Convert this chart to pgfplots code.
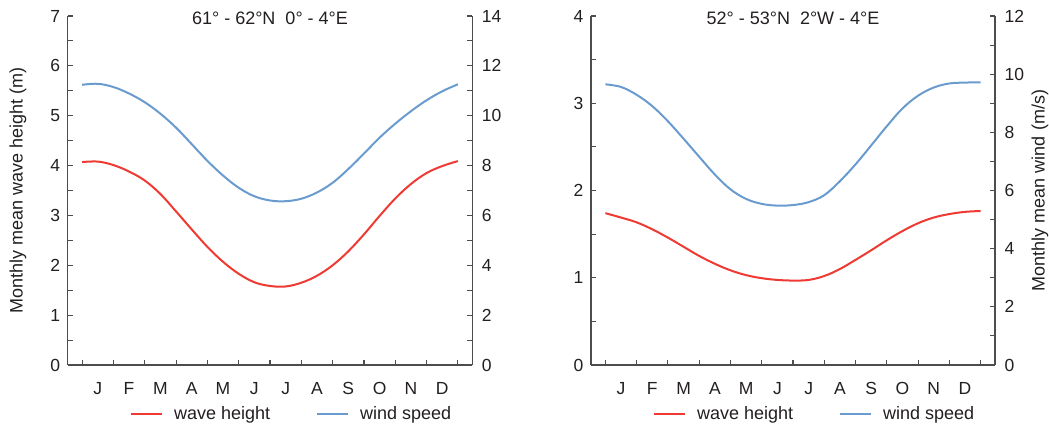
\documentclass[border=0pt]{standalone}
\usepackage{pgfplots}
\pgfplotsset{compat=1.18}
\usepackage{fontspec}
\setmainfont{Liberation Sans}
\definecolor{wred}{HTML}{EE3A32}
\definecolor{wblue}{HTML}{6A9BCE}
\definecolor{axgray}{HTML}{4D4D4D}
\definecolor{txt}{HTML}{231F20}

\pgfplotsset{
  base/.style={
    scale only axis, anchor=south west, height=349pt,
    xmin=-0.46, xmax=12.46, ymin=0,
    axis line style={-, draw=axgray, line width=1.3pt},
    tick style={draw=axgray, line width=1.1pt},
    tick align=inside, major tick length=5pt, minor tick length=5pt,
    ticklabel style={font=\fontsize{17.5}{20}\selectfont, text=txt},
    /pgf/number format/assume math mode=true,
    label style={font=\fontsize{18}{21}\selectfont, text=txt},
    clip=false,
  },
  leftax/.style={base,
    axis x line*=bottom, axis y line*=left,
    xtick={0,...,12}, xticklabels={},
    extra x ticks={0.5,1.5,...,11.5},
    extra x tick labels={J,F,M,A,M,J,J,A,S,O,N,D},
    extra x tick style={tick style={draw=none}},
    xticklabel style={yshift=-14pt},
    yticklabel style={xshift=-4pt},
    legend columns=2,
    legend cell align=left,
    legend image code/.code={\draw[##1] (0pt,0pt) -- (31pt,0pt);},
    legend style={anchor=west, draw=none, fill=none,
      font=\fontsize{18}{21}\selectfont, text=txt,
      inner sep=0pt, outer sep=0pt, nodes={inner sep=0pt},
      /tikz/every odd column/.append style={column sep=11pt},
      /tikz/every even column/.append style={column sep=46pt}},
  },
  rightax/.style={base,
    axis x line=none, axis y line*=right,
    xtick=\empty,
    yticklabel style={xshift=6pt},
  },
  curve/.style={line width=2pt, smooth, tension=0.6},
}

\begin{document}
\begin{tikzpicture}
\useasboundingbox (0,0) rectangle (1049pt,425pt);

% ---------------- left panel ----------------
\begin{axis}[leftax, at={(67.7pt,60pt)}, width=404.6pt,
  ymax=7, ytick={0,...,7}, minor ytick={0.5,1.5,...,6.5},
  ylabel={Monthly mean wave height (m)},
  ylabel style={at={(axis description cs:-0.123,0.5)}, anchor=center},
  legend style={at={(0.154,-0.14)}}]
\addplot[wred, curve] coordinates {
(0,4.07) (0.5,4.08) (1,4.01) (1.5,3.88) (2,3.70) (2.5,3.43) (3,3.08)
(3.5,2.72) (4,2.37) (4.5,2.07) (5,1.83) (5.5,1.66) (6,1.585) (6.5,1.575)
(7,1.65) (7.5,1.79) (8,2.00) (8.5,2.28) (9,2.62) (9.5,2.99) (10,3.34)
(10.5,3.63) (11,3.85) (11.5,3.99) (12,4.09)};
\addlegendentry{wave height}
\addlegendimage{wblue, line width=2pt}
\addlegendentry{wind speed}
\node[font=\fontsize{18}{21}\selectfont, text=txt] at (rel axis cs:0.5,0.993) {61° - 62°N\ \ 0° - 4°E};
\end{axis}
\begin{axis}[rightax, at={(67.7pt,60pt)}, width=404.6pt,
  ymax=14, ytick={0,2,...,14}, minor ytick={1,3,...,13}]
\addplot[wblue, curve] coordinates {
(0,11.24) (0.5,11.28) (1,11.15) (1.5,10.89) (2,10.54) (2.5,10.08) (3,9.52)
(3.5,8.86) (4,8.19) (4.5,7.60) (5,7.11) (5.5,6.77) (6,6.60) (6.5,6.57)
(7,6.67) (7.5,6.92) (8,7.31) (8.5,7.86) (9,8.48) (9.5,9.12) (10,9.68)
(10.5,10.18) (11,10.62) (11.5,10.98) (12,11.26)};
\end{axis}

% ---------------- right panel ----------------
\begin{axis}[leftax, at={(591pt,60pt)}, width=404pt,
  ymax=4, ytick={0,...,4}, minor ytick={0.5,1.5,...,3.5},
  legend style={at={(0.1535,-0.14)}}]
\addplot[wred, curve] coordinates {
(0,1.74) (0.5,1.69) (1,1.635) (1.5,1.555) (2,1.46) (2.5,1.355) (3,1.25)
(3.5,1.16) (4,1.085) (4.5,1.03) (5,0.995) (5.5,0.975) (6,0.968) (6.5,0.975)
(7,1.02) (7.5,1.10) (8,1.205) (8.5,1.315) (9,1.43) (9.5,1.535) (10,1.625)
(10.5,1.69) (11,1.73) (11.5,1.755) (12,1.765)};
\addlegendentry{wave height}
\addlegendimage{wblue, line width=2pt}
\addlegendentry{wind speed}
\node[font=\fontsize{18}{21}\selectfont, text=txt] at (rel axis cs:0.5,0.993) {52° - 53°N\ \ 2°W - 4°E};
\end{axis}
\begin{axis}[rightax, at={(591pt,60pt)}, width=404pt,
  ymax=12, ytick={0,2,...,12}, minor ytick={1,3,...,11},
  ylabel={Monthly mean wind (m/s)},
  ylabel style={at={(axis description cs:1.111,0.5)}, anchor=center}]
\addplot[wblue, curve] coordinates {
(0,9.65) (0.5,9.56) (1,9.29) (1.5,8.90) (2,8.38) (2.5,7.78) (3,7.16)
(3.5,6.55) (4,6.04) (4.5,5.71) (5,5.54) (5.5,5.48) (6,5.50) (6.5,5.60)
(7,5.84) (7.5,6.32) (8,6.90) (8.5,7.55) (9,8.21) (9.5,8.82) (10,9.26)
(10.5,9.54) (11,9.68) (11.5,9.71) (12,9.72)};
\end{axis}
\end{tikzpicture}
\end{document}
